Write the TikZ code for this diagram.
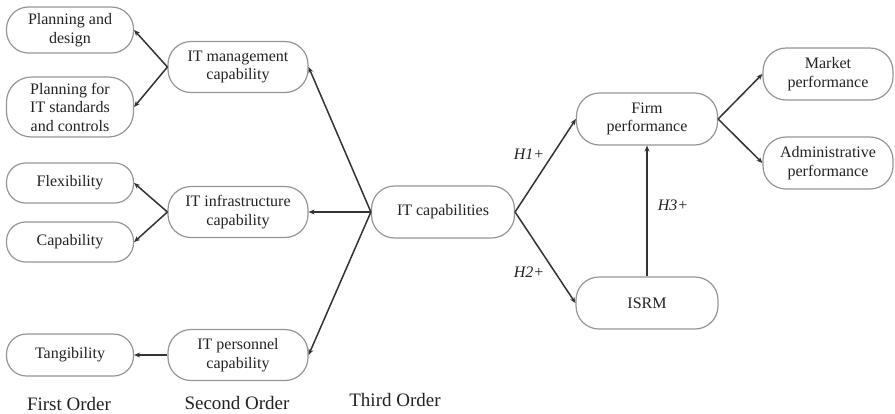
\documentclass[tikz,border=0pt]{standalone}
\usepackage{fontspec}
\setmainfont{Liberation Serif}
\usetikzlibrary{arrows.meta}
\definecolor{boxline}{HTML}{959595}
\definecolor{arrline}{HTML}{333333}
\definecolor{txt}{HTML}{222222}
\begin{document}
\begin{tikzpicture}[x=1pt,y=-1pt,
  box/.style={draw=boxline, line width=1.2pt, rounded corners=23pt, align=center,
    text=txt, inner sep=0pt, font=\fontsize{16pt}{18.5pt}\selectfont},
  fo/.style={box, minimum width=127pt},
  so/.style={box, minimum width=140pt, minimum height=51pt},
  arr/.style={draw=arrline, line width=1.5pt, -{Stealth[length=6pt,width=5pt]}},
  lbl/.style={text=txt, font=\fontsize{19pt}{22pt}\selectfont},
  hyp/.style={text=txt, font=\fontsize{16pt}{18.5pt}\selectfont\itshape}]
\useasboundingbox (0,0) rectangle (895,413);
% first order
\node[fo, minimum height=46pt, rounded corners=22pt] (pd) at (70,30) {Planning and\\design};
\node[fo, minimum height=60pt, rounded corners=25pt] (pits) at (70,107) {Planning for\\IT standards\\and controls};
\node[fo, minimum height=40pt, rounded corners=19pt] (flex) at (70,183) {Flexibility};
\node[fo, minimum height=40pt, rounded corners=19pt] (cap) at (70,242) {Capability};
\node[fo, minimum height=42pt, rounded corners=20pt] (tang) at (70,355) {Tangibility};
% second order
\node[so] (itm) at (238,67) {IT management\\capability};
\node[so] (iti) at (238,212) {IT infrastructure\\capability};
\node[so] (itp) at (238,355) {IT personnel\\capability};
% third order
\node[box, minimum width=143pt, minimum height=52pt] (itc) at (443,212) {IT capabilities};
% outcomes
\node[box, minimum width=141pt, minimum height=52pt] (firm) at (647,119) {Firm\\performance};
\node[box, minimum width=142pt, minimum height=52pt] (isrm) at (647,303) {ISRM};
\node[box, minimum width=130pt, minimum height=52pt] (mkt) at (828,74) {Market\\performance};
\node[box, minimum width=130pt, minimum height=52pt] (adm) at (828,163) {Administrative\\performance};
% arrows
\draw[arr] (itc.west) -- (itm.east);
\draw[arr] (itc.west) -- (iti.east);
\draw[arr] (itc.west) -- (itp.east);
\draw[arr] (itm.west) -- (pd.east);
\draw[arr] (itm.west) -- (pits.east);
\draw[arr] (iti.west) -- (flex.east);
\draw[arr] (iti.west) -- (cap.east);
\draw[arr] (itp.west) -- (tang.east);
\draw[arr] (itc.east) -- (firm.west);
\draw[arr] (itc.east) -- (isrm.west);
\draw[arr] (isrm.north) -- (firm.south);
\draw[arr] (firm.east) -- (mkt.west);
\draw[arr] (firm.east) -- (adm.west);
% hypothesis labels
\node[hyp] (h1) at (529,154) {H1+};
\node[hyp] (h2) at (529,272) {H2+};
\node[hyp] (h3) at (673,205) {H3+};
% order labels
\node[lbl] (l1) at (69,404) {First Order};
\node[lbl] (l2) at (237,403) {Second Order};
\node[lbl] (l3) at (395,400) {Third Order};
\end{tikzpicture}
\end{document}
